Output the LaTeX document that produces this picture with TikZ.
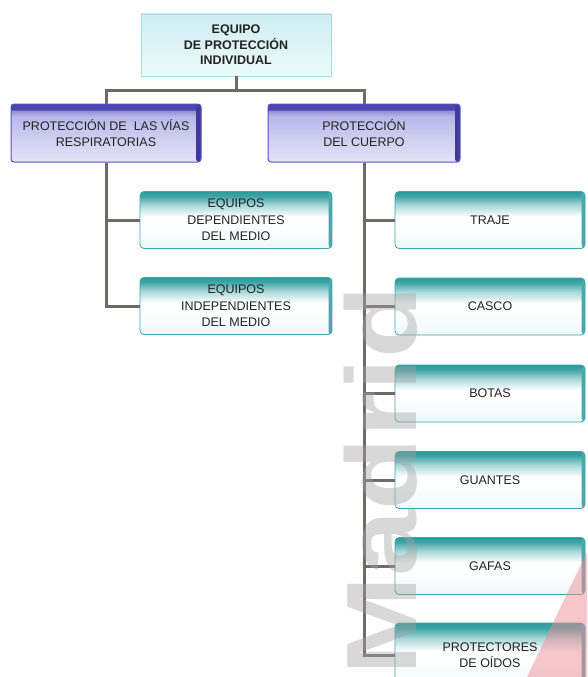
\documentclass[tikz,border=0pt]{standalone}
\usepackage{fontspec}
\setmainfont{Liberation Sans}
\usetikzlibrary{calc}

\definecolor{tealdk}{HTML}{2A9A9C}
\definecolor{tealln}{HTML}{3DA7A9}
\definecolor{tealpale}{HTML}{EEF8F9}
\definecolor{violetdk}{HTML}{4A46B0}
\definecolor{violetln}{HTML}{5552C2}
\definecolor{violetlt}{HTML}{B9B9EA}
\definecolor{violetpale}{HTML}{E4E4F8}
\definecolor{cyanlt}{HTML}{CDEEF1}
\definecolor{cyanln}{HTML}{A6DCE0}
\definecolor{linkgray}{HTML}{6E6A6A}
\definecolor{inkgray}{HTML}{222222}
\definecolor{markgray}{HTML}{A4A4A4}
\definecolor{markpink}{HTML}{EE8E98}

% vertical fills: the inner 25bp..75bp band spans the node
\pgfdeclareverticalshading{tealfill}{100bp}{color(0bp)=(tealpale); color(25bp)=(tealpale); color(45bp)=(white); color(53bp)=(white); color(63bp)=(tealdk!40); color(71bp)=(tealdk!90); color(75bp)=(tealdk); color(100bp)=(tealdk)}
\pgfdeclareverticalshading{violetfill}{100bp}{color(0bp)=(violetpale); color(25bp)=(violetpale); color(45bp)=(violetpale!50!violetlt); color(64bp)=(violetlt); color(69.5bp)=(violetlt!60!violetdk); color(70bp)=(violetdk); color(100bp)=(violetdk)}
\pgfdeclareverticalshading{cyanfill}{100bp}{color(0bp)=(white); color(25bp)=(cyanlt!35); color(75bp)=(cyanlt); color(100bp)=(cyanlt)}

\tikzset{
  boxtext/.style={align=center, text=inkgray, inner sep=0pt,
    font=\fontsize{12.5}{16.5}\selectfont},
  headbox/.style={boxtext, shade, shading=cyanfill, draw=cyanln, line width=0.8pt,
    minimum width=190pt, minimum height=62pt,
    font=\fontsize{12.5}{15.5}\selectfont\bfseries},
  violetbox/.style={boxtext, shade, shading=violetfill, draw=violetln, line width=1pt,
    rounded corners=3pt, minimum width=190pt, minimum height=58pt,
    path picture={\fill[violetdk!85!black] ([xshift=-5pt]path picture bounding box.north east)
      rectangle (path picture bounding box.south east);}},
  tealbox/.style={boxtext, shade, shading=tealfill, draw=tealln, line width=0.8pt,
    rounded corners=4pt, minimum height=57pt,
    path picture={\fill[tealdk!85] ([xshift=-3.5pt]path picture bounding box.north east)
      rectangle (path picture bounding box.south east);}},
  link/.style={draw=linkgray, line width=3pt},
}

\begin{document}
\begin{tikzpicture}[x=1pt, y=-1pt]
  \useasboundingbox (0,0) rectangle (587,677);
  \clip (0,0) rectangle (587,677);
  \fill[white] (0,0) rectangle (587,677);

  % root
  \node[headbox] (epi) at (236,45) {EQUIPO\\DE PROTECCIÓN\\INDIVIDUAL};

  % second level
  \node[violetbox] (vias) at (106,133) {PROTECCIÓN DE\ \ LAS VÍAS\\RESPIRATORIAS};
  \node[violetbox, minimum width=192pt] (cuerpo) at (364,133) {PROTECCIÓN\\DEL CUERPO};

  % breathing equipment
  \node[tealbox, minimum width=192pt] (dep) at (236,220) {EQUIPOS\\DEPENDIENTES\\DEL MEDIO};
  \node[tealbox, minimum width=192pt] (indep) at (236,306) {EQUIPOS\\INDEPENDIENTES\\DEL MEDIO};

  % body protection
  \node[tealbox, minimum width=190pt] (traje) at (490,220) {TRAJE};
  \node[tealbox, minimum width=190pt] (casco) at (490,306.5) {CASCO};
  \node[tealbox, minimum width=190pt] (botas) at (490,393.5) {BOTAS};
  \node[tealbox, minimum width=190pt] (guantes) at (490,480) {GUANTES};
  \node[tealbox, minimum width=190pt] (gafas) at (490,566) {GAFAS};
  \node[tealbox, minimum width=190pt, minimum height=64pt] (oidos) at (490,655) {PROTECTORES\\DE OÍDOS};

  % connectors
  \draw[link] (epi.south) -- ++(0,14) coordinate (hub);
  \draw[link] (hub) -| (vias.north);
  \draw[link] (hub) -| (cuerpo.north);
  \draw[link] (vias.south) |- (dep.west);
  \draw[link] (vias.south) |- (indep.west);
  \foreach \leaf in {traje,casco,botas,guantes,gafas,oidos}
    \draw[link] (cuerpo.south) |- (\leaf.west);

  % watermark
  \node[rotate=90, anchor=base west, inner sep=0pt, text=markgray, opacity=0.42,
        font=\fontsize{100}{100}\selectfont\bfseries] (marca) at (416,676)
        {\scalebox{1.19}[1]{Madrid}};
  \fill[markpink, opacity=0.5] (527,677) -- (587,552) -- (587,677) -- cycle;
\end{tikzpicture}
\end{document}
